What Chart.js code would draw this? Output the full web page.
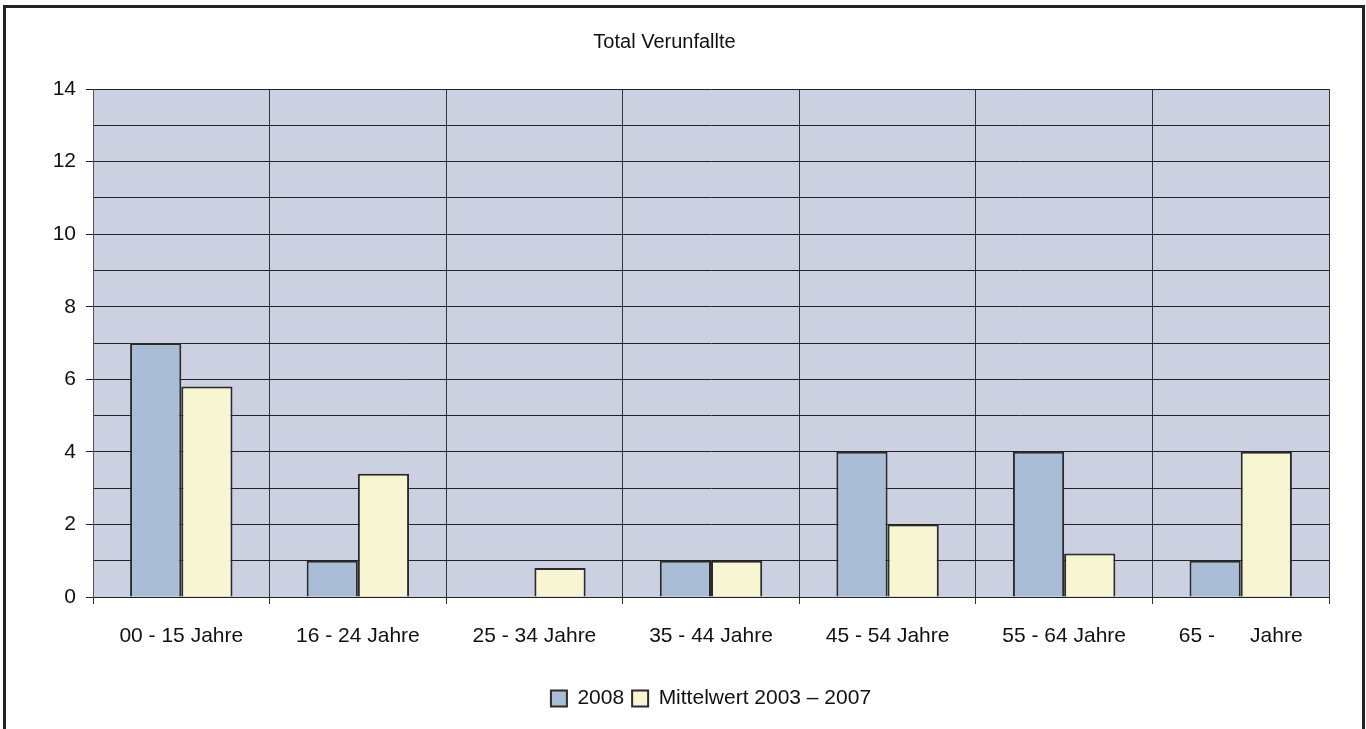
<!DOCTYPE html>
<html lang="de">
  <head>
    <meta charset="UTF-8" />
    <title>Total Verunfallte</title>
    <script src="https://cdn.jsdelivr.net/npm/chart.js@4"></script>
    <style>
      body { margin: 0; background: #fff; }
      #frame {
        position: absolute; left: 3px; top: 5px;
        width: 1356px; height: 740px;
        border: 3px solid #222;
      }
      #wrap { position: absolute; left: 0; top: 0; width: 1366px; height: 729px; }
    </style>
  </head>
  <body>
    <div id="frame"></div>
    <div id="wrap"><canvas id="myChart" width="1366" height="729"></canvas></div>

    <script>
      const labels = ['00 - 15 Jahre', '16 - 24 Jahre', '25 - 34 Jahre', '35 - 44 Jahre',
                      '45 - 54 Jahre', '55 - 64 Jahre', '65 -      Jahre'];
      const values2008 = [7, 1, 0, 1, 4, 4, 1];
      const valuesMittel = [5.8, 3.4, 0.8, 1, 2, 1.2, 4];

      const font = 'Liberation Sans';

      // plot area background
      const plotBg = {
        id: 'plotBg',
        beforeDraw(chart) {
          const a = chart.chartArea;
          const ctx = chart.ctx;
          ctx.save();
          ctx.fillStyle = '#cbd1e1';
          ctx.fillRect(a.left, a.top, a.right - a.left, a.bottom - a.top);
          ctx.restore();
        }
      };

      const ctx = document.getElementById('myChart').getContext('2d');
      const myChart = new Chart(ctx, {
        type: 'bar',
        data: {
          labels: labels,
          datasets: [{
            label: '2008',
            data: values2008,
            backgroundColor: '#aabdd6',
            borderColor: '#2b2b2b',
            borderWidth: 2,
            barPercentage: 1,
            categoryPercentage: 0.58
          }, {
            label: 'Mittelwert 2003 \u2013 2007',
            data: valuesMittel,
            backgroundColor: '#f8f5d2',
            borderColor: '#2b2b2b',
            borderWidth: 2,
            barPercentage: 1,
            categoryPercentage: 0.58
          }]
        },
        plugins: [plotBg],
        options: {
          responsive: false,
          animation: false,
          layout: { padding: { left: 0, right: 37, top: 0, bottom: 10 } },
          plugins: {
            title: {
              display: true,
              text: 'Total Verunfallte',
              color: '#111',
              font: { family: font, size: 20, weight: 'normal' },
              padding: { top: 30, bottom: 35 }
            },
            legend: {
              position: 'bottom',
              fullSize: false,
              labels: {
                color: '#111',
                font: { family: font, size: 21 },
                boxWidth: 16,
                boxHeight: 16,
                padding: 8
              }
            },
            tooltip: { enabled: false }
          },
          scales: {
            x: {
              afterFit: s => { s.height = 83; },
              grid: {
                offset: true,
                color: '#333',
                lineWidth: 1,
                tickLength: 7
              },
              border: { color: '#222', width: 1 },
              ticks: { color: '#111', font: { family: font, size: 21 }, padding: 20 }
            },
            y: {
              min: 0,
              max: 14,
              afterFit: s => { s.width = 93; },
              grid: {
                color: '#222',
                lineWidth: 1,
                tickLength: 7,
                tickColor: c => (c.tick && c.tick.value % 2 === 0) ? '#222' : 'rgba(0,0,0,0)'
              },
              border: { color: '#555', width: 1 },
              ticks: {
                stepSize: 1,
                color: '#111',
                font: { family: font, size: 21 },
                padding: 10,
                callback: v => (v % 2 === 0 ? v : '')
              }
            }
          }
        }
      });
    </script>
  </body>
</html>
